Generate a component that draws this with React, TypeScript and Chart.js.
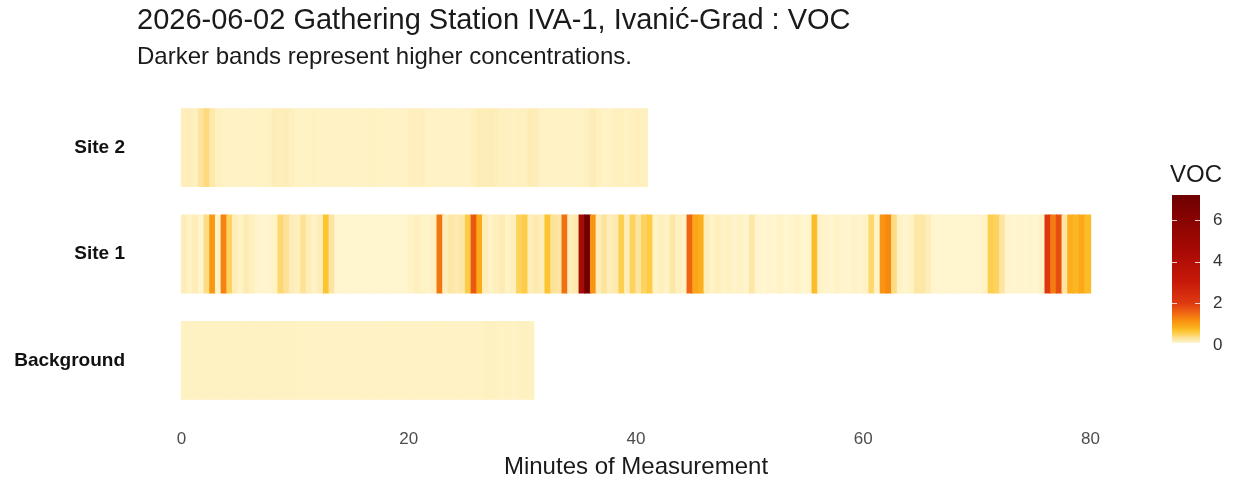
import React, { useEffect, useRef } from 'react';
import { Chart, registerables } from 'chart.js';

Chart.register(...registerables);

const TITLE = '2026-06-02 Gathering Station IVA-1, Ivanić-Grad : VOC';
const SUBTITLE = 'Darker bands represent higher concentrations.';
const X_TITLE = 'Minutes of Measurement';
const LEGEND_TITLE = 'VOC';

const ROWS = ['Site 2', 'Site 1', 'Background'];
const STEP_MIN = 0.5; // each tile covers half a minute
const X_TICKS = [0, 20, 40, 60, 80];
const LEGEND_TICKS = [0, 2, 4, 6];

// Site 2: 0 – 41 min
const SITE2 = [
  0.18, 0.2, 0.17, 0.32, 0.42, 0.26, 0.17, 0.15, 0.15, 0.15,
  0.14, 0.14, 0.15, 0.15, 0.15, 0.16, 0.2, 0.19, 0.2, 0.17,
  0.15, 0.14, 0.15, 0.16, 0.15, 0.14, 0.15, 0.14, 0.14, 0.15,
  0.15, 0.15, 0.15, 0.16, 0.15, 0.15, 0.15, 0.14, 0.15, 0.15,
  0.18, 0.17, 0.18, 0.14, 0.14, 0.14, 0.14, 0.14, 0.14, 0.14,
  0.15, 0.17, 0.21, 0.2, 0.21, 0.19, 0.17, 0.17, 0.16, 0.17,
  0.17, 0.21, 0.2, 0.15, 0.15, 0.15, 0.15, 0.15, 0.15, 0.15,
  0.15, 0.17, 0.21, 0.17, 0.15, 0.15, 0.17, 0.17, 0.16, 0.17,
  0.18, 0.17,
];

// Site 1: 0 – 80 min
const SITE1 = [
  0.2, 0.15, 0.2, 0.12, 0.4, 1.1, 0.15, 1.3, 0.5, 0.2,
  0.15, 0.22, 0.17, 0.12, 0.11, 0.12, 0.15, 0.45, 0.35, 0.2,
  0.18, 0.35, 0.2, 0.15, 0.2, 0.68, 0.3, 0.11, 0.1, 0.1,
  0.1, 0.1, 0.1, 0.1, 0.1, 0.1, 0.1, 0.11, 0.1, 0.1,
  0.14, 0.18, 0.15, 0.13, 0.17, 1.4, 0.2, 0.28, 0.24, 0.28,
  0.6, 1.7, 0.9, 0.2, 0.15, 0.18, 0.22, 0.15, 0.18, 0.5,
  0.6, 0.2, 0.24, 0.2, 0.68, 0.35, 0.3, 1.45, 0.2, 0.24,
  4.5, 7.2, 1.15, 0.2, 0.33, 0.2, 0.24, 0.55, 0.2, 0.5,
  0.3, 0.5, 0.6, 0.15, 0.18, 0.15, 0.28, 0.18, 0.15, 1.55,
  0.95, 0.85, 0.2, 0.15, 0.18, 0.15, 0.17, 0.13, 0.15, 0.13,
  0.28, 0.12, 0.11, 0.12, 0.11, 0.14, 0.11, 0.12, 0.14, 0.11,
  0.12, 0.75, 0.14, 0.12, 0.11, 0.14, 0.12, 0.11, 0.14, 0.12,
  0.15, 0.45, 0.15, 1.15, 1.25, 0.4, 0.15, 0.12, 0.15, 0.28,
  0.28, 0.2, 0.12, 0.11, 0.1, 0.1, 0.11, 0.1, 0.1, 0.1,
  0.12, 0.15, 0.55, 0.5, 0.3, 0.12, 0.11, 0.12, 0.11, 0.12,
  0.11, 0.15, 2.1, 1.35, 1.8, 0.3, 0.85, 0.8, 0.9, 0.75,
];

// Background: 0 – 31 min
const BACKGROUND = [
  0.16, 0.16, 0.16, 0.16, 0.16, 0.16, 0.16, 0.16, 0.16, 0.16,
  0.16, 0.16, 0.16, 0.16, 0.16, 0.16, 0.16, 0.16, 0.16, 0.16,
  0.15, 0.15, 0.15, 0.15, 0.15, 0.15, 0.15, 0.15, 0.15, 0.15,
  0.15, 0.15, 0.15, 0.15, 0.15, 0.15, 0.15, 0.15, 0.15, 0.15,
  0.15, 0.15, 0.15, 0.15, 0.15, 0.15, 0.15, 0.15, 0.15, 0.15,
  0.15, 0.15, 0.15, 0.16, 0.17, 0.16, 0.15, 0.16, 0.15, 0.16,
  0.17, 0.16,
];

const COLOR_STOPS: [number, string][] = [
  [0.1, '#FFF6D0'],
  [0.2, '#FEEDB8'],
  [0.35, '#FDE196'],
  [0.5, '#FDD35E'],
  [0.7, '#FCC22C'],
  [0.9, '#FBA91A'],
  [1.2, '#F88E10'],
  [1.5, '#F06A12'],
  [2.0, '#DF3A10'],
  [3.0, '#C81A0A'],
  [4.5, '#A80A04'],
  [7.2, '#6E0000'],
];

const FONT = '"Liberation Sans", Arial, Helvetica, sans-serif';

function hexToRgb(h: string): number[] {
  const n = parseInt(h.slice(1), 16);
  return [(n >> 16) & 255, (n >> 8) & 255, n & 255];
}

function colorFor(v: number): string {
  if (v <= COLOR_STOPS[0][0]) return COLOR_STOPS[0][1];
  for (let i = 1; i < COLOR_STOPS.length; i++) {
    const [v1, c1] = COLOR_STOPS[i];
    if (v <= v1) {
      const [v0, c0] = COLOR_STOPS[i - 1];
      const t = (v - v0) / (v1 - v0);
      const a = hexToRgb(c0);
      const b = hexToRgb(c1);
      const m = a.map((x, k) => Math.round(x + (b[k] - x) * t));
      return `rgb(${m[0]},${m[1]},${m[2]})`;
    }
  }
  return COLOR_STOPS[COLOR_STOPS.length - 1][1];
}

function tiles(values: number[], row: string) {
  return values.map((v, i) => ({ x: [i * STEP_MIN, (i + 1) * STEP_MIN], y: row, v }));
}

const ALL_VALUES = [...SITE2, ...SITE1, ...BACKGROUND];
const V_MIN = Math.min(...ALL_VALUES);
const V_MAX = Math.max(...ALL_VALUES);

const headerPlugin = {
  id: 'header',
  afterDraw(chart: any) {
    const ctx = chart.ctx;
    ctx.save();
    ctx.fillStyle = '#1a1a1a';
    ctx.textAlign = 'left';
    ctx.textBaseline = 'alphabetic';
    ctx.font = `29px ${FONT}`;
    ctx.fillText(TITLE, chart.chartArea.left + 1, 29);
    ctx.font = `24px ${FONT}`;
    ctx.fillText(SUBTITLE, chart.chartArea.left + 1, 64);
    ctx.restore();
  },
};

const colorbarPlugin = {
  id: 'colorbar',
  afterDraw(chart: any) {
    const ctx = chart.ctx;
    const x0 = chart.chartArea.right + 36;
    const w = 28;
    const pxPerUnit = 20.83;
    const yZero = 345;
    const yOf = (v: number) => yZero - v * pxPerUnit;
    const yTop = yOf(V_MAX);
    const yBot = yOf(V_MIN);
    ctx.save();
    const g = ctx.createLinearGradient(0, yBot, 0, yTop);
    g.addColorStop(0, colorFor(V_MIN));
    COLOR_STOPS.forEach(([v]) => {
      if (v > V_MIN && v < V_MAX) g.addColorStop((v - V_MIN) / (V_MAX - V_MIN), colorFor(v));
    });
    g.addColorStop(1, colorFor(V_MAX));
    ctx.fillStyle = g;
    ctx.fillRect(x0, yTop, w, yBot - yTop);
    ctx.strokeStyle = 'rgba(255,255,255,0.8)';
    ctx.lineWidth = 1;
    ctx.font = `17px ${FONT}`;
    ctx.fillStyle = '#333333';
    ctx.textAlign = 'left';
    ctx.textBaseline = 'middle';
    LEGEND_TICKS.forEach((t) => {
      const y = Math.round(yOf(t)) + 0.5;
      if (t > V_MIN) {
        ctx.beginPath();
        ctx.moveTo(x0, y);
        ctx.lineTo(x0 + 5, y);
        ctx.moveTo(x0 + w - 5, y);
        ctx.lineTo(x0 + w, y);
        ctx.stroke();
      }
      ctx.fillText(String(t), x0 + w + 13, yOf(t));
    });
    ctx.fillStyle = '#1a1a1a';
    ctx.font = `24px ${FONT}`;
    ctx.textBaseline = 'alphabetic';
    ctx.fillText(LEGEND_TITLE, x0 - 2, 182);
    ctx.restore();
  },
};

export default function App() {
  const ref = useRef<HTMLCanvasElement | null>(null);

  useEffect(() => {
    if (!ref.current) return;
    Chart.defaults.font.family = FONT;
    const rows: [string, number[]][] = [
      ['Site 2', SITE2],
      ['Site 1', SITE1],
      ['Background', BACKGROUND],
    ];
    const chart = new Chart(ref.current, {
      type: 'bar',
      data: {
        labels: ROWS,
        datasets: rows.map(([name, vals]) => ({
          label: name,
          data: tiles(vals, name) as any,
          backgroundColor: vals.map(colorFor),
          borderWidth: 0,
          inflateAmount: 0.6,
          grouped: false,
          categoryPercentage: 1,
          barPercentage: 0.73,
        })),
      },
      options: {
        indexAxis: 'y',
        animation: false,
        responsive: true,
        maintainAspectRatio: false,
        layout: { padding: { top: 94.5, right: 97, left: 0, bottom: 0 } },
        plugins: {
          legend: { display: false },
          tooltip: { enabled: false },
        },
        scales: {
          x: {
            type: 'linear',
            min: -4,
            max: 84,
            grid: { display: false, drawTicks: false },
            border: { display: false },
            afterBuildTicks: (s: any) => {
              s.ticks = X_TICKS.map((v) => ({ value: v }));
            },
            afterFit: (s: any) => {
              s.height = 68.5;
            },
            ticks: {
              padding: 16,
              color: '#4d4d4d',
              font: { size: 17 },
              callback: (v: any) => String(v),
            },
            title: {
              display: true,
              text: X_TITLE,
              color: '#1a1a1a',
              font: { size: 24 },
              padding: { top: 0, bottom: 0 },
            },
          },
          y: {
            type: 'category',
            labels: ROWS,
            offset: true,
            grid: { display: false, drawTicks: false },
            border: { display: false },
            afterFit: (s: any) => {
              s.width = 136;
            },
            ticks: {
              padding: 11,
              color: '#111111',
              font: { size: 19, weight: 'bold' },
            },
          },
        },
      },
      plugins: [headerPlugin, colorbarPlugin],
    } as any);
    return () => chart.destroy();
  }, []);

  return (
    <div style={{ position: 'absolute', left: 0, top: 0, width: 1233, height: 482, background: '#ffffff' }}>
      <canvas ref={ref} />
    </div>
  );
}
